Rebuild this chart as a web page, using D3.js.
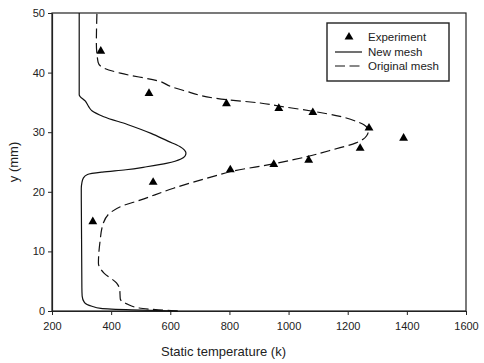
<!DOCTYPE html>
<html>
<head>
<meta charset="utf-8">
<script src="https://cdn.jsdelivr.net/npm/d3@7"></script>
<style>
  body { margin: 0; background: #fff; }
  svg text { font-family: "Liberation Sans", Arial, sans-serif; fill: #222; }
</style>
</head>
<body>
<div id="chart"></div>
<script>
// experiment points
let expT = [365, 528, 790, 967, 1082, 1272, 1389, 1242, 1068, 950, 803, 542, 338];
let expY = [43.6, 36.5, 34.8, 34.0, 33.3, 30.7, 29.0, 27.3, 25.3, 24.6, 23.7, 21.6, 15.0];

// new mesh (solid)
let newY = [0, 0.2, 0.45, 0.8, 1.4, 2.5, 4, 12, 20.5, 21.5, 22.3, 22.9, 23.3, 23.7, 24.2, 24.8, 25.5, 26.0, 26.5, 27.0, 27.6, 28.5, 29.8, 31.3, 32.6, 33.6, 34.3, 35.2, 36.3, 50];
let newT = [625, 470, 365, 335, 310, 302, 301, 300, 299, 301, 306, 320, 370, 450, 520, 590, 636, 650, 653, 648, 632, 592, 535, 455, 375, 335, 324, 313, 292, 292];

// original mesh (dashed)
let origY = [0, 0.2, 0.5, 1.2, 2.0, 3.6, 4.7, 6.4, 8.0, 11.5, 14.8, 16.6, 17.5, 18.6, 20.6, 22.6, 23.4, 24.7, 25.9, 27.1, 28.2, 28.8, 29.4, 30.0, 30.6, 31.2, 31.7, 32.65, 33.5, 34.4, 34.9, 35.45, 37.0, 37.7, 38.5, 39.9, 40.8, 41.7, 45, 50];
let origT = [625, 560, 495, 453, 431, 429, 418, 375, 357, 362, 374, 400, 431, 498, 611, 746, 805, 949, 1062, 1152, 1228, 1252, 1264, 1269, 1267, 1256, 1235, 1174, 1084, 966, 904, 790, 645, 600, 566, 431, 374, 356, 350, 352];

let xTicks = [200, 400, 600, 800, 1000, 1200, 1400, 1600];
let yTicks = [0, 10, 20, 30, 40, 50];

let legendLabels = ["Experiment", "New mesh", "Original mesh"];

let W = 484, H = 363;
let margin = {top: 13, right: 18, bottom: 52, left: 52};
let width = W - margin.left - margin.right;
let height = H - margin.top - margin.bottom;

let svg = d3.select("#chart").append("svg")
    .attr("width", W)
    .attr("height", H);

let g = svg.append("g")
    .attr("transform", `translate(${margin.left},${margin.top})`);

let x = d3.scaleLinear().domain([200, 1600]).range([0, width]);
let y = d3.scaleLinear().domain([0, 50]).range([height, 0]);

// frame
g.append("rect")
    .attr("width", width)
    .attr("height", height)
    .attr("fill", "none")
    .attr("stroke", "#222")
    .attr("stroke-width", 1.2);

// axes
let xAxis = g.append("g")
    .attr("transform", `translate(0,${height})`)
    .call(d3.axisBottom(x).tickValues(xTicks).tickSize(4).tickSizeOuter(0).tickFormat(d3.format("d")));
let yAxis = g.append("g")
    .call(d3.axisLeft(y).tickValues(yTicks).tickSize(4).tickSizeOuter(0));

[xAxis, yAxis].forEach(a => {
    a.select(".domain").attr("stroke", "#222").attr("stroke-width", 1.2);
    a.selectAll(".tick line").attr("stroke", "#222");
    a.selectAll(".tick text").style("font-size", "11px").attr("fill", "#333");
});
xAxis.selectAll(".tick text").attr("dy", "1.1em");
yAxis.selectAll(".tick text").attr("x", -7);

// axis titles
g.append("text")
    .attr("x", x(780))
    .attr("y", height + 45)
    .attr("text-anchor", "middle")
    .style("font-size", "13px")
    .text("Static temperature (k)");

svg.append("text")
    .attr("transform", `translate(18,${margin.top + y(25)}) rotate(-90)`)
    .attr("text-anchor", "middle")
    .style("font-size", "13px")
    .text("y (mm)");

// curves
let line = d3.line()
    .x(d => x(d[0]))
    .y(d => y(d[1]))
    .curve(d3.curveMonotoneY);

g.append("path")
    .datum(newT.map((t, i) => [t, newY[i]]))
    .attr("d", line)
    .attr("fill", "none")
    .attr("stroke", "#111")
    .attr("stroke-width", 1.2);

g.append("path")
    .datum(origT.map((t, i) => [t, origY[i]]))
    .attr("d", line)
    .attr("fill", "none")
    .attr("stroke", "#111")
    .attr("stroke-width", 1.2)
    .attr("stroke-dasharray", "10,4.5");

// experiment markers
let tri = d3.symbol().type(d3.symbolTriangle).size(34);
g.selectAll(".exp")
    .data(expT.map((t, i) => [t, expY[i]]))
    .enter().append("path")
    .attr("class", "exp")
    .attr("d", tri)
    .attr("fill", "#000")
    .attr("transform", d => `translate(${x(d[0])},${y(d[1])})`);

// legend
let legend = svg.append("g").attr("transform", "translate(327,23)");
legend.append("rect")
    .attr("width", 122)
    .attr("height", 58)
    .attr("fill", "#fff")
    .attr("stroke", "#222")
    .attr("stroke-width", 1.4);

legend.append("path")
    .attr("d", tri)
    .attr("fill", "#000")
    .attr("transform", "translate(22,14)");
legend.append("line")
    .attr("x1", 8).attr("x2", 35).attr("y1", 29).attr("y2", 29)
    .attr("stroke", "#111").attr("stroke-width", 1.2);
legend.append("line")
    .attr("x1", 8).attr("x2", 35).attr("y1", 43).attr("y2", 43)
    .attr("stroke", "#111").attr("stroke-width", 1.2)
    .attr("stroke-dasharray", "10,4.5");

legend.selectAll(".ltext")
    .data(legendLabels)
    .enter().append("text")
    .attr("class", "ltext")
    .attr("x", 41)
    .attr("y", (d, i) => 14 + i * 14.5)
    .attr("dy", "0.35em")
    .style("font-size", "11.5px")
    .text(d => d);
</script>
</body>
</html>
